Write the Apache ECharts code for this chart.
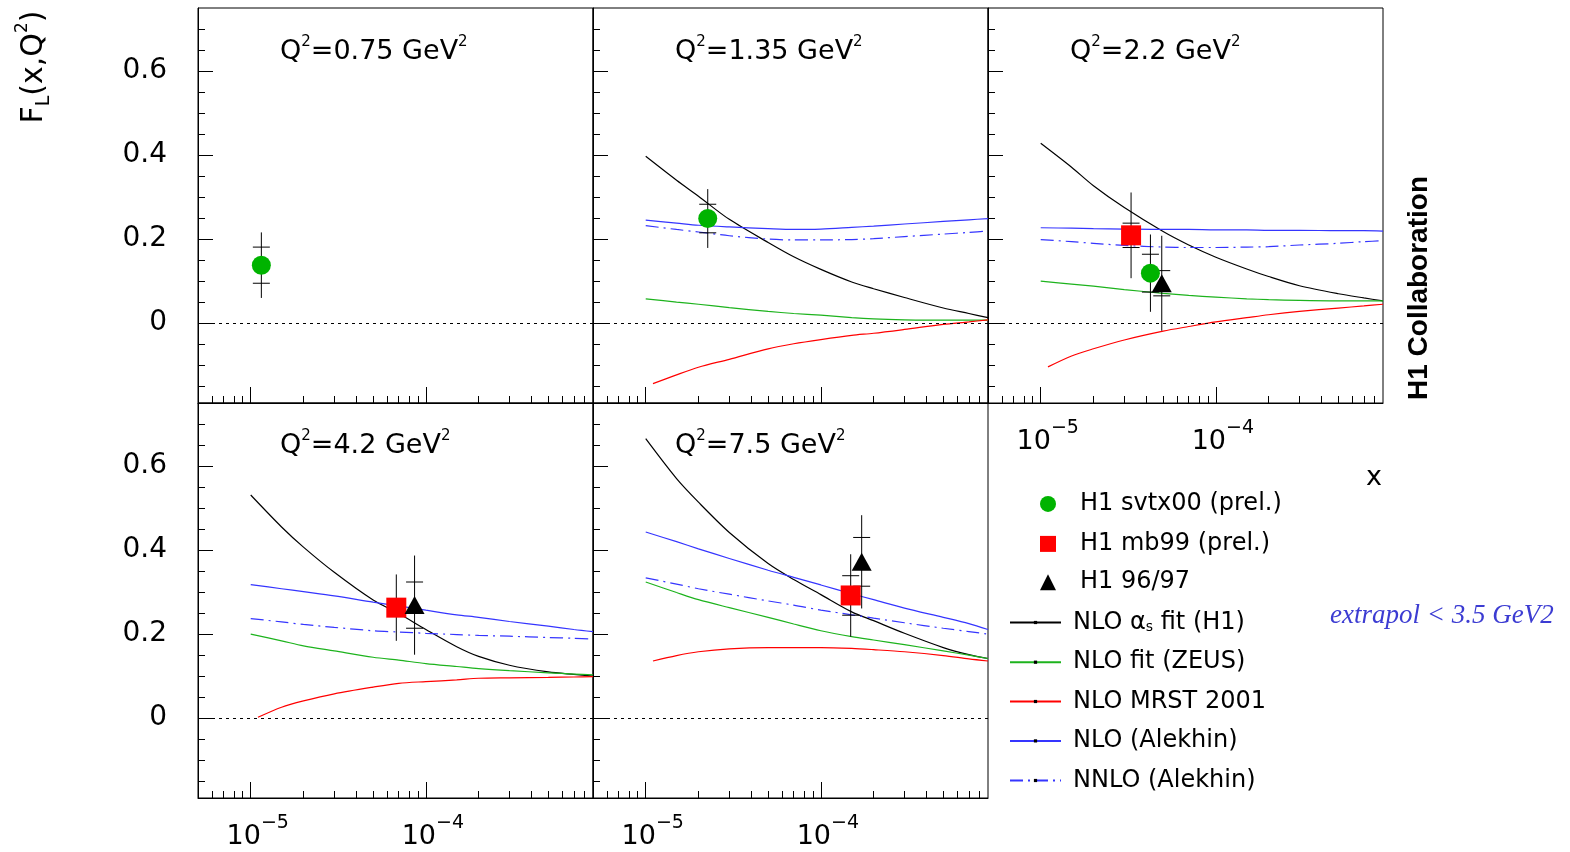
<!DOCTYPE html>
<html>
<head>
<meta charset="utf-8">
<title>F_L(x,Q2) H1</title>
<script src="https://cdn.jsdelivr.net/npm/echarts@6.0.0/dist/echarts.min.js"></script>
<style>
  html, body { margin: 0; padding: 0; background: #fff; }
  #chart { width: 1570px; height: 852px; }
</style>
</head>
<body>
<div id="chart"></div>
<script>
// panel labels (Q^2 in GeV^2)
const qLabels = ['0.75', '1.35', '2.2', '4.2', '7.5']

// tick values
const xMajorTicks = [1e-5, 1e-4]
const xMinorTicks = [6e-6, 7e-6, 8e-6, 9e-6, 2e-5, 3e-5, 4e-5, 5e-5, 6e-5, 7e-5, 8e-5, 9e-5, 2e-4, 3e-4, 4e-4, 5e-4, 6e-4, 7e-4, 8e-4]
const yMajorTicks = [0, 0.2, 0.4, 0.6]
const yMinorTicks = [-0.15, -0.1, -0.05, 0.05, 0.1, 0.15, 0.25, 0.3, 0.35, 0.45, 0.5, 0.55, 0.65, 0.7]

// x grid of the theory curves
const xGrid = [1e-5, 1.5e-5, 2e-5, 3e-5, 5e-5, 7e-5, 1e-4, 1.5e-4, 2e-4, 3e-4, 5e-4, 7e-4, 9e-4]
const xGridMrst = [1.1e-5, 1.5e-5, 2e-5, 3e-5, 5e-5, 7e-5, 1e-4, 1.5e-4, 2e-4, 3e-4, 5e-4, 7e-4, 9e-4]

// theory curves, one row per Q2 = 1.35, 2.2, 4.2, 7.5
const h1Fit = [
  [0.397, 0.340, 0.302, 0.247, 0.192, 0.158, 0.128, 0.098, 0.082, 0.061, 0.036, 0.023, 0.013],
  [0.428, 0.371, 0.327, 0.275, 0.218, 0.186, 0.157, 0.129, 0.111, 0.089, 0.070, 0.060, 0.053],
  [0.531, 0.455, 0.407, 0.347, 0.281, 0.249, 0.211, 0.170, 0.147, 0.126, 0.110, 0.104, 0.100],
  [0.665, 0.570, 0.514, 0.442, 0.368, 0.330, 0.294, 0.253, 0.232, 0.202, 0.168, 0.151, 0.142]
]
const zeusFit = [
  [0.058, 0.050, 0.045, 0.037, 0.028, 0.023, 0.019, 0.013, 0.010, 0.008, 0.007, 0.007, 0.007],
  [0.100, 0.093, 0.088, 0.080, 0.071, 0.066, 0.062, 0.058, 0.056, 0.054, 0.053, 0.053, 0.053],
  [0.200, 0.184, 0.172, 0.160, 0.145, 0.138, 0.130, 0.123, 0.118, 0.113, 0.108, 0.105, 0.103],
  [0.324, 0.299, 0.282, 0.263, 0.240, 0.224, 0.208, 0.194, 0.186, 0.175, 0.160, 0.150, 0.142]
]
const mrst2001 = [
  [-0.144, -0.123, -0.105, -0.086, -0.061, -0.049, -0.039, -0.029, -0.024, -0.015, -0.003, 0.003, 0.008],
  [-0.104, -0.078, -0.061, -0.040, -0.019, -0.008, 0.003, 0.013, 0.020, 0.028, 0.036, 0.041, 0.045],
  [0.002, 0.026, 0.041, 0.058, 0.074, 0.083, 0.087, 0.091, 0.095, 0.096, 0.097, 0.098, 0.099],
  [0.136, 0.149, 0.158, 0.165, 0.168, 0.168, 0.168, 0.166, 0.163, 0.158, 0.149, 0.141, 0.136]
]
const alekhinNlo = [
  [0.245, 0.238, 0.233, 0.229, 0.225, 0.223, 0.224, 0.228, 0.231, 0.236, 0.242, 0.246, 0.249],
  [0.227, 0.226, 0.225, 0.224, 0.223, 0.223, 0.222, 0.222, 0.221, 0.221, 0.220, 0.220, 0.219],
  [0.318, 0.308, 0.301, 0.291, 0.276, 0.267, 0.257, 0.246, 0.240, 0.230, 0.219, 0.211, 0.206],
  [0.443, 0.420, 0.403, 0.380, 0.352, 0.335, 0.317, 0.296, 0.282, 0.262, 0.240, 0.225, 0.211]
]
const alekhinNnlo = [
  [0.232, 0.223, 0.217, 0.208, 0.200, 0.198, 0.198, 0.199, 0.201, 0.206, 0.212, 0.216, 0.219],
  [0.199, 0.194, 0.190, 0.185, 0.181, 0.180, 0.180, 0.181, 0.182, 0.186, 0.190, 0.194, 0.196],
  [0.237, 0.229, 0.223, 0.216, 0.208, 0.205, 0.202, 0.199, 0.197, 0.195, 0.192, 0.190, 0.188],
  [0.334, 0.319, 0.308, 0.295, 0.279, 0.269, 0.257, 0.246, 0.238, 0.227, 0.214, 0.206, 0.200]
]

// data points: panel index, x, F_L, stat error, total error
const svtxPanel = [0, 1, 2]
const svtxX = [1.15e-5, 2.26e-5, 4.23e-5]
const svtxY = [0.138, 0.249, 0.119]
const svtxStat = [0.043, 0.034, 0.045]
const svtxTot = [0.078, 0.070, 0.092]

const mb99Panel = [2, 3, 4]
const mb99X = [3.28e-5, 6.78e-5, 1.48e-4]
const mb99Y = [0.209, 0.263, 0.292]
const mb99Stat = [0.029, 0.020, 0.047]
const mb99Tot = [0.102, 0.079, 0.098]

const h9697Panel = [2, 3, 4]
const h9697X = [4.91e-5, 8.62e-5, 1.71e-4]
const h9697Y = [0.095, 0.269, 0.372]
const h9697Stat = [0.030, 0.055, 0.058]
const h9697Tot = [0.113, 0.118, 0.111]

const FONT = 'DejaVu Sans'
const ALPHA_NAME = 'NLO \u03b1s fit (H1)'

const panelLeft = [198, 593, 988, 198, 593]
const panelTop = [8, 8, 8, 403, 403]
const panelW = 395
const panelH = 395

const chart = echarts.init(document.getElementById('chart'))

const grids = []
const xAxes = []
const yAxes = []
const titles = []
const series = []

for (let p = 0; p < 5; p++) {
  grids.push({
    left: panelLeft[p], top: panelTop[p], width: panelW, height: panelH,
    show: true, borderColor: '#000', borderWidth: 1, backgroundColor: 'transparent',
    containLabel: false, outerBoundsMode: 'none'
  })

  const xBase = { type: 'log', logBase: 10, gridIndex: p, min: 5e-6, max: 9e-4, position: 'bottom', splitLine: { show: false } }
  // major x ticks (+ labels under the lowest panels)
  xAxes.push(Object.assign({}, xBase, {
    axisLine: { show: true, onZero: false, lineStyle: { color: '#000', width: 1 } },
    axisTick: { show: true, inside: true, length: 16, customValues: xMajorTicks, lineStyle: { color: '#000' } },
    axisLabel: {
      show: p >= 2,
      customValues: xMajorTicks,
      margin: 16,
      padding: [0, 0, 0, 14],
      formatter: v => '{b|10}{s|\u2212' + Math.abs(Math.round(Math.log10(v))) + '}',
      rich: {
        b: { fontFamily: FONT, fontSize: 27, lineHeight: 46, color: '#000' },
        s: { fontFamily: FONT, fontSize: 19, lineHeight: 12, verticalAlign: 'top', color: '#000' }
      }
    }
  }))
  // minor x ticks
  xAxes.push(Object.assign({}, xBase, {
    axisLine: { show: false, onZero: false },
    axisTick: { show: true, inside: true, length: 7, customValues: xMinorTicks, lineStyle: { color: '#000' } },
    axisLabel: { show: false }
  }))

  const yBase = { type: 'value', gridIndex: p, min: -0.19, max: 0.75, position: 'left', splitLine: { show: false } }
  yAxes.push(Object.assign({}, yBase, {
    axisLine: { show: true, onZero: false, lineStyle: { color: '#000', width: 1 } },
    axisTick: { show: true, inside: true, length: 15, customValues: yMajorTicks, lineStyle: { color: '#000' } },
    axisLabel: {
      show: p === 0 || p === 3,
      customValues: yMajorTicks,
      margin: 31,
      fontFamily: FONT, fontSize: 28, color: '#000',
      formatter: v => (v === 0 ? '0' : v.toFixed(1))
    }
  }))
  yAxes.push(Object.assign({}, yBase, {
    axisLine: { show: false, onZero: false },
    axisTick: { show: true, inside: true, length: 7, customValues: yMinorTicks, lineStyle: { color: '#000' } },
    axisLabel: { show: false }
  }))

  titles.push({
    text: '{b|Q}{s|2}{b|=' + qLabels[p] + ' GeV}{s|2}',
    left: panelLeft[p] + 82,
    top: (p < 3 ? 52 : 446) - 17,
    padding: 0,
    textStyle: {
      fontWeight: 'normal',
      rich: {
        b: { fontFamily: FONT, fontSize: 27, fontWeight: 'normal', lineHeight: 34, color: '#000' },
        s: { fontFamily: FONT, fontSize: 15, fontWeight: 'normal', lineHeight: 22, verticalAlign: 'top', color: '#000' }
      }
    }
  })
}

// theory curves live in panels 1..4
const curvePanels = [1, 2, 3, 4]
const lineSeries = (name, panel, xs, ys, color, dash) => ({
  name,
  type: 'line',
  xAxisIndex: 2 * panel,
  yAxisIndex: 2 * panel,
  data: xs.map((x, i) => [x, ys[i]]),
  showSymbol: false,
  symbol: 'rect',
  smooth: 0.3,
  lineStyle: { color, width: 1.2, type: dash || 'solid' },
  itemStyle: { color: '#000' },
  silent: true,
  z: 2
})

curvePanels.forEach((p, k) => {
  series.push(lineSeries(ALPHA_NAME, p, xGrid, h1Fit[k], '#000000'))
  series.push(lineSeries('NLO fit (ZEUS)', p, xGrid, zeusFit[k], '#1db31d'))
  series.push(lineSeries('NLO MRST 2001', p, xGridMrst, mrst2001[k], '#ff0000'))
  series.push(lineSeries('NLO (Alekhin)', p, xGrid, alekhinNlo[k], '#3535ff'))
  series.push(lineSeries('NNLO (Alekhin)', p, xGrid, alekhinNnlo[k], '#3535ff', [13, 5, 2, 5]))
})

// error bars: vertical line = total error, small horizontal marks = stat error
const renderErr = (params, api) => {
  const x = api.value(0)
  const y = api.value(1)
  const c = api.coord([x, y])
  const tHi = api.coord([x, y + api.value(3)])
  const tLo = api.coord([x, y - api.value(3)])
  const sHi = api.coord([x, y + api.value(2)])
  const sLo = api.coord([x, y - api.value(2)])
  const st = { stroke: '#000', lineWidth: 1 }
  return {
    type: 'group',
    children: [
      { type: 'line', shape: { x1: c[0], y1: tHi[1], x2: c[0], y2: tLo[1] }, style: st },
      { type: 'line', shape: { x1: c[0] - 8.5, y1: sHi[1], x2: c[0] + 8.5, y2: sHi[1] }, style: st },
      { type: 'line', shape: { x1: c[0] - 8.5, y1: sLo[1], x2: c[0] + 8.5, y2: sLo[1] }, style: st }
    ]
  }
}

const zeroDone = {}
const addPoints = (name, panels, xs, ys, stat, tot, symbol, size, color) => {
  panels.forEach((p, i) => {
    series.push({
      name: name + ' err',
      type: 'custom',
      xAxisIndex: 2 * p,
      yAxisIndex: 2 * p,
      data: [[xs[i], ys[i], stat[i], tot[i]]],
      renderItem: renderErr,
      silent: true,
      z: 3
    })
    const s = {
      name,
      type: 'scatter',
      xAxisIndex: 2 * p,
      yAxisIndex: 2 * p,
      data: [[xs[i], ys[i]]],
      symbol,
      symbolSize: size,
      itemStyle: { color, opacity: 1 },
      silent: true,
      z: 4
    }
    // dotted zero line, once per panel
    if (!zeroDone[p]) {
      zeroDone[p] = true
      s.markLine = {
        silent: true,
        symbol: ['none', 'none'],
        label: { show: false },
        lineStyle: { color: '#000', width: 1, type: [3, 4] },
        data: [{ yAxis: 0 }]
      }
    }
    series.push(s)
  })
}

addPoints('H1 svtx00 (prel.)', svtxPanel, svtxX, svtxY, svtxStat, svtxTot, 'circle', 19, '#00b300')
addPoints('H1 mb99 (prel.)', mb99Panel, mb99X, mb99Y, mb99Stat, mb99Tot, 'rect', 20, '#ff0000')
addPoints('H1 96/97', h9697Panel, h9697X, h9697Y, h9697Stat, h9697Tot, 'triangle', [20, 18], '#000000')

// legend: one small legend per row so each row sits where the reference has it
const legendRich = gap => ({
  gap: { width: gap, fontSize: 24 },
  t: { fontFamily: FONT, fontSize: 24, color: '#000' },
  g: { fontFamily: FONT, fontSize: 24, color: '#000' },
  sub: { fontFamily: FONT, fontSize: 14, lineHeight: 10, verticalAlign: 'bottom', color: '#000' }
})
const markerRows = [
  { name: 'H1 svtx00 (prel.)', icon: 'circle', y: 501.7 },
  { name: 'H1 mb99 (prel.)', icon: 'rect', y: 541.7 },
  { name: 'H1 96/97', icon: 'triangle', y: 580 }
]
const lineRows = [
  { name: ALPHA_NAME, y: 620.3 },
  { name: 'NLO fit (ZEUS)', y: 660 },
  { name: 'NLO MRST 2001', y: 699.3 },
  { name: 'NLO (Alekhin)', y: 738.7 },
  { name: 'NNLO (Alekhin)', y: 778.3 }
]
const LEGEND_HALF = 9.8
const legends = []
markerRows.forEach(r => legends.push({
  left: 1040, top: r.y - LEGEND_HALF, padding: 0,
  itemWidth: 16, itemHeight: 16, selectedMode: false,
  data: [{ name: r.name, icon: r.icon }],
  formatter: name => '{gap| }{t|' + name + '}',
  textStyle: { rich: legendRich(19) }
}))
lineRows.forEach(r => legends.push({
  left: 1009, top: r.y - LEGEND_HALF, padding: 0,
  itemWidth: 51, itemHeight: 4, selectedMode: false,
  data: [r.name],
  formatter: name => name === ALPHA_NAME
    ? '{gap| }{t|NLO }{g|\u03b1}{sub|s}{t| fit (H1)}'
    : '{gap| }{t|' + name + '}',
  textStyle: { rich: legendRich(7) }
}))

const option = {
  animation: false,
  backgroundColor: '#fff',
  title: titles,
  grid: grids,
  xAxis: xAxes,
  yAxis: yAxes,
  legend: legends,
  graphic: [
    {
      type: 'text', x: 34, y: 67, rotation: Math.PI / 2,
      style: {
        text: '{f|F}{sub|L}{f|(x,Q}{sup|2}{f|)}',
        align: 'center', verticalAlign: 'middle',
        rich: {
          f: { fontFamily: FONT, fontSize: 30, lineHeight: 40, fill: '#000' },
          sub: { fontFamily: FONT, fontSize: 19, lineHeight: 22, verticalAlign: 'bottom', fill: '#000' },
          sup: { fontFamily: FONT, fontSize: 17, lineHeight: 22, verticalAlign: 'top', fill: '#000' }
        }
      }
    },
    {
      type: 'text', x: 1419, y: 288, rotation: Math.PI / 2,
      style: {
        text: 'H1 Collaboration', align: 'center', verticalAlign: 'middle',
        font: 'bold 28px "Liberation Sans", Arial, sans-serif', fill: '#000'
      }
    },
    {
      type: 'text', x: 1374, y: 478,
      style: {
        text: 'x', align: 'center', verticalAlign: 'middle',
        font: '27px "DejaVu Sans", sans-serif', fill: '#000'
      }
    },
    {
      type: 'text', x: 1330, y: 616,
      style: {
        text: 'extrapol < 3.5 GeV2', align: 'left', verticalAlign: 'middle',
        font: 'italic 27px "Liberation Serif", "DejaVu Serif", serif', fill: '#3c3cd2'
      }
    }
  ],
  series
}

chart.setOption(option)
</script>
</body>
</html>
